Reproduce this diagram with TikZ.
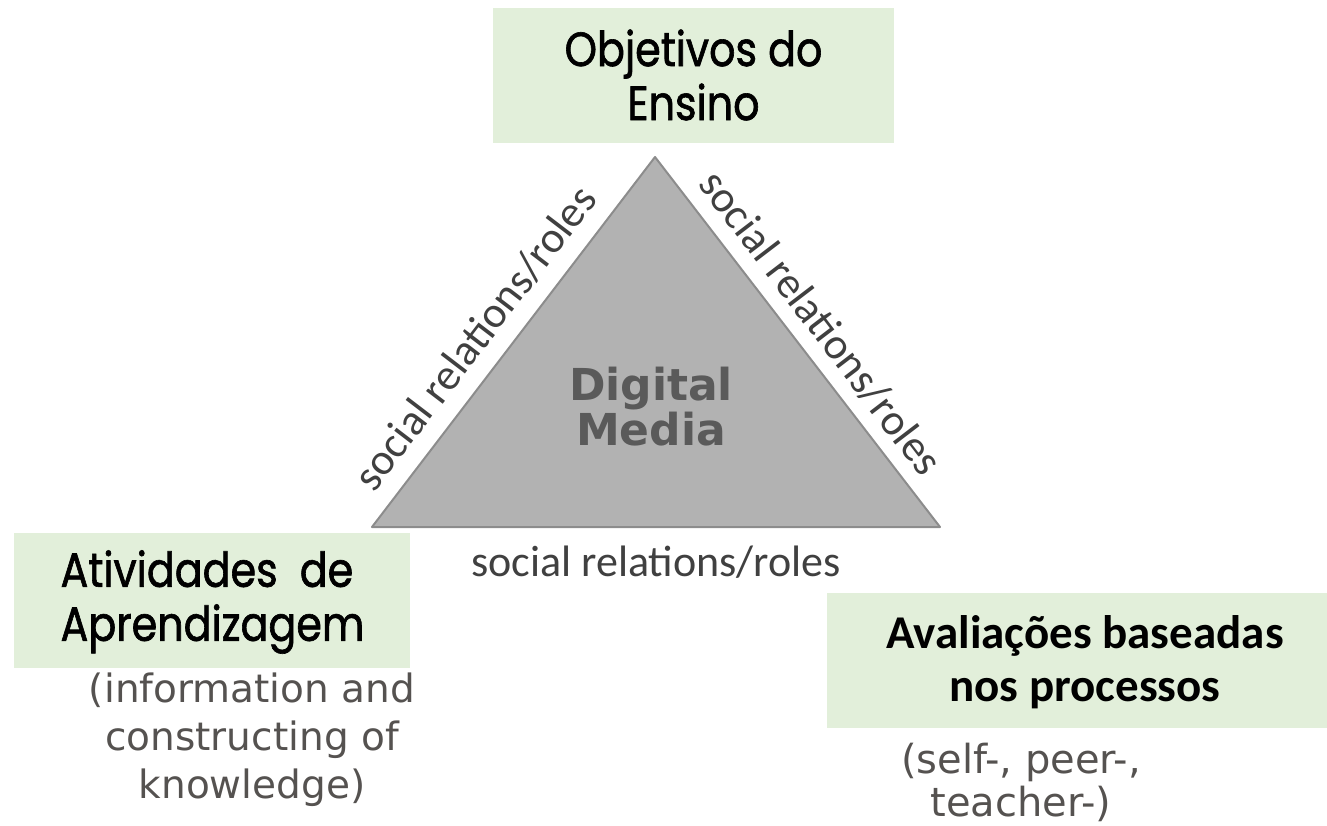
\documentclass[tikz,border=0pt]{standalone}
\usepackage{fontspec}
\setmainfont{Carlito}
\newfontfamily\geofont[FakeStretch=0.86, FakeBold=1.3]{Poppins}
\newfontfamily\verdfont{DejaVu Sans}
\definecolor{boxgreen}{RGB}{226,239,218}
\definecolor{trifill}{RGB}{178,178,178}
\definecolor{tridraw}{RGB}{140,140,140}
\definecolor{labelgray}{RGB}{64,64,64}
\definecolor{infogray}{RGB}{85,82,80}
\definecolor{mediagray}{RGB}{90,90,90}

\begin{document}
\begin{tikzpicture}[x=0.5pt,y=-0.5pt,
  box/.style={fill=boxgreen, inner sep=0pt},
  titletext/.style={font=\geofont\fontsize{24}{27}\selectfont, align=center, inner sep=0pt},
  boldtext/.style={font=\bfseries\fontsize{23.5}{26.5}\selectfont, align=center, inner sep=0pt},
  edgelabel/.style={font=\fontsize{22}{26}\selectfont, text=labelgray, inner sep=0pt},
  infotext/.style={font=\verdfont\fontsize{19.5}{24}\selectfont, text=infogray, align=center, inner sep=0pt},
]
  \useasboundingbox (0,0) rectangle (1327,825);

  % triangle
  \coordinate (apex) at (655,157);
  \coordinate (lcorner) at (372,527);
  \coordinate (rcorner) at (940,527);
  \draw[fill=trifill, draw=tridraw, line width=1pt, line join=round] (apex) -- (lcorner) -- (rcorner) -- cycle;
  \node[font=\verdfont\bfseries\fontsize{22}{22.5}\selectfont, text=mediagray, align=center, inner sep=0pt]
    (media) at (651,407) {Digital\\Media};

  %% social relations along the edges
  \node[edgelabel, rotate=52.6] (leftrel) at (475,338) {social relations/roles};
  \node[edgelabel, rotate=-52.6] (rightrel) at (821,323) {social relations/roles};
  \node[edgelabel, anchor=base] (baserel) at (656,576) {social relations/roles};

  %% texts under the boxes
  \node[infotext] (learninfo) at (252,740) {(information and\\constructing of\\knowledge)};
  \node[infotext, font=\verdfont\fontsize{20}{21.5}\selectfont] (assessinfo) at (1021,782) {(self-, peer-,\\teacher-)};

  %% green boxes
  \node[box, minimum width=200.5pt, minimum height=67.5pt] (goalsbox) at (693.5,75.5) {};
  \node[titletext] (goals) at (693.5,75) {Objetivos do\\Ensino};
  \node[box, minimum width=198pt, minimum height=67.5pt] (learnbox) at (212,600.5) {};
  \node[titletext, align=left] (learn) at (212.5,602) {Atividades\ \ de\\Aprendizagem};
  \node[box, minimum width=250pt, minimum height=67.5pt] (assessbox) at (1077,660.5) {};
  \node[boldtext] (assess) at (1085,662) {Avaliações baseadas\\nos processos};
\end{tikzpicture}
\end{document}
